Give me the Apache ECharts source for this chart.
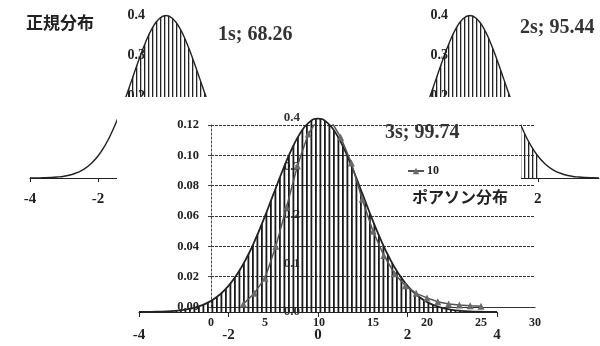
<!DOCTYPE html>
<html><head><meta charset="utf-8">
<script src="https://cdn.jsdelivr.net/npm/echarts@6/dist/echarts.min.js"></script>
<style>html,body{margin:0;padding:0;background:#fff}#c{width:600px;height:346px}</style>
</head><body><div id="c"></div>
<script>
// ---- data ----
const normX = [-4,-3.8,-3.6,-3.4,-3.2,-3,-2.8,-2.6,-2.4,-2.2,-2,-1.8,-1.6,-1.4,-1.2,-1,-0.8,-0.6,-0.4,-0.2,0,
               0.2,0.4,0.6,0.8,1,1.2,1.4,1.6,1.8,2,2.2,2.4,2.6,2.8,3,3.2,3.4,3.6,3.8,4];
const normY = [0.0001,0.0003,0.0006,0.0012,0.0024,0.0044,0.0079,0.0136,0.0224,0.0355,0.0540,0.0790,0.1109,0.1497,0.1942,0.2420,0.2897,0.3332,0.3683,0.3910,0.3989,
               0.3910,0.3683,0.3332,0.2897,0.2420,0.1942,0.1497,0.1109,0.0790,0.0540,0.0355,0.0224,0.0136,0.0079,0.0044,0.0024,0.0012,0.0006,0.0003,0.0001];
const poisK = [3,4,5,6,7,8,9,10,11,12,13,14,15,16,17,18,19,20,21,22,23,24,25];
const poisP = [0.002,0.009,0.019,0.040,0.066,0.093,0.114,0.125,0.124,0.112,0.095,0.071,0.050,0.034,0.022,0.014,0.009,0.006,0.0035,0.002,0.0013,0.0008,0.0005];
const poisName = '10';
const hatch1s = [-1.2, 1.2];
const hatch2s = [-2, 2];
const titles = {main:'正規分布', pois:'ポアソン分布', s1:'1s; 68.26', s2:'2s; 95.44', s3:'3s; 99.74'};

// ---- helpers ----
const pairs = (lo, hi) => normX.map((x,i)=>[x,normY[i]]).filter(p=>p[0]>=lo-1e-9 && p[0]<=hi+1e-9);
function stripes(w, lines, lw, color){
  const c=document.createElement('canvas'); c.width=w; c.height=4;
  const g=c.getContext('2d'); g.fillStyle=color;
  lines.forEach(x=>g.fillRect(x,0,lw,4));
  return {image:c, repeat:'repeat'};
}
const serif = 'Liberation Serif';
const lbl = (size, extra) => Object.assign({fontFamily:serif, fontWeight:'bold', fontSize:size, color:'#222'}, extra||{});

const chart = echarts.init(document.getElementById('c'), null, {renderer:'canvas'});
const axLine = {lineStyle:{color:'#222', width:1.2}};

const option = {
  animation:false,
  backgroundColor:'#fff',
  grid:[
    {left:30, right:298, top:15, bottom:168, zlevel:0, outerBoundsMode:'none', containLabel:false},
    {left:334, right:1, top:15, bottom:168, zlevel:0, outerBoundsMode:'none', containLabel:false},
    {left:211, right:65, top:125, bottom:39, zlevel:2, outerBoundsMode:'none', containLabel:false},
    {left:139, right:103, top:118, bottom:34, zlevel:2, outerBoundsMode:'none', containLabel:false}
  ],
  xAxis:[
    {gridIndex:0, type:'value', min:-4, max:4, interval:2, zlevel:0, axisLine:axLine, axisTick:{length:4, lineStyle:{color:'#222'}}, splitLine:{show:false}, axisLabel:lbl(15,{margin:14})},
    {gridIndex:1, type:'value', min:-4, max:3.8, interval:2, zlevel:0, axisLine:axLine, axisTick:{length:4, lineStyle:{color:'#222'}}, splitLine:{show:false}, axisLabel:lbl(15,{margin:14, showMaxLabel:false})},
    {gridIndex:2, type:'value', min:0, max:30, interval:5, zlevel:2, axisLine:{lineStyle:{color:'#333', width:1.2}}, axisTick:{show:false}, splitLine:{show:false}, axisLabel:lbl(12,{margin:10})},
    {gridIndex:3, type:'value', min:-4, max:4, interval:2, zlevel:2, axisLine:axLine, axisTick:{length:5, lineStyle:{color:'#222'}}, splitLine:{show:false}, axisLabel:lbl(15,{margin:16})}
  ],
  yAxis:[
    {gridIndex:0, type:'value', min:0, max:0.4, interval:0.1, offset:-118, zlevel:0, axisLine:{show:false}, axisTick:{show:false}, splitLine:{show:false}, axisLabel:lbl(14,{margin:3, formatter:v=>v.toFixed(1)})},
    {gridIndex:1, type:'value', min:0, max:0.4, interval:0.1, offset:-117, zlevel:0, axisLine:{show:false}, axisTick:{show:false}, splitLine:{show:false}, axisLabel:lbl(14,{margin:3, formatter:v=>v.toFixed(1)})},
    {gridIndex:2, type:'value', min:0, max:0.12, interval:0.02, zlevel:2, axisLine:{show:true, lineStyle:{color:'#444', type:[2,2]}}, axisTick:{show:true, length:3, lineStyle:{color:'#444'}}, splitLine:{show:true, lineStyle:{color:'#333', type:[3,1]}}, axisLabel:lbl(12.5,{margin:12, formatter:v=>v.toFixed(2)})},
    {gridIndex:3, type:'value', min:0, max:0.4, interval:0.1, offset:-164, zlevel:2, axisLine:{show:false}, axisTick:{show:false}, splitLine:{show:false}, axisLabel:lbl(13,{margin:3, color:'#333', formatter:v=>v.toFixed(1)})}
  ],
  legend:{data:[poisName], left:407, top:165, padding:0, itemWidth:16, itemHeight:8, zlevel:2,
    textStyle:{fontFamily:serif, fontWeight:'bold', fontSize:12, color:'#222', padding:[0,0,0,-2]}},
  series:[
    {type:'line', xAxisIndex:0, yAxisIndex:0, zlevel:0, data:pairs(hatch1s[0],hatch1s[1]), smooth:true, symbol:'none', lineStyle:{width:0}, areaStyle:{color:stripes(4,[0],1.3,'#222'), opacity:1}, silent:true},
    {type:'line', xAxisIndex:0, yAxisIndex:0, zlevel:0, data:pairs(-4,4), smooth:true, symbol:'none', lineStyle:{color:'#222', width:1.4}},
    {type:'line', xAxisIndex:1, yAxisIndex:1, zlevel:0, data:pairs(hatch2s[0],hatch2s[1]), smooth:true, symbol:'none', lineStyle:{width:0}, areaStyle:{color:stripes(4,[0],1.3,'#222'), opacity:1}, silent:true},
    {type:'line', xAxisIndex:1, yAxisIndex:1, zlevel:0, data:pairs(-4,3.8), smooth:true, symbol:'none', lineStyle:{color:'#222', width:1.4}},
    {type:'line', xAxisIndex:3, yAxisIndex:3, zlevel:2, data:pairs(-4,4), smooth:true, symbol:'none', lineStyle:{color:'#222', width:1.8}, areaStyle:{color:stripes(9,[0,4.5],1.8,'#1a1a1a'), opacity:1}},
    {type:'line', name:poisName, xAxisIndex:2, yAxisIndex:2, zlevel:2, data:poisK.map((k,i)=>[k,poisP[i]]), symbol:'triangle', symbolSize:7, showAllSymbol:true,
      itemStyle:{color:'#6a6a6a'}, lineStyle:{color:'#555', width:1.5}}
  ],
  graphic:[
    {type:'rect', zlevel:1, shape:{x:117, y:97, width:404, height:249}, style:{fill:'#fff'}, silent:true},
    {type:'text', zlevel:0, style:{x:26, y:23, text:titles.main, font:'bold 17px "Noto Sans CJK JP"', fill:'#222', verticalAlign:'middle'}},
    {type:'text', zlevel:0, style:{x:218, y:35, text:titles.s1, font:'bold 20px "Liberation Serif"', fill:'#333', verticalAlign:'middle'}},
    {type:'text', zlevel:0, style:{x:520, y:28, text:titles.s2, font:'bold 20px "Liberation Serif"', fill:'#333', verticalAlign:'middle'}},
    {type:'text', zlevel:2, style:{x:385, y:133, text:titles.s3, font:'bold 20px "Liberation Serif"', fill:'#333', verticalAlign:'middle'}},
    {type:'text', zlevel:2, style:{x:412, y:197, text:titles.pois, font:'bold 16px "Noto Sans CJK JP"', fill:'#222', verticalAlign:'middle'}}
  ]
};
chart.setOption(option);
</script></body></html>
